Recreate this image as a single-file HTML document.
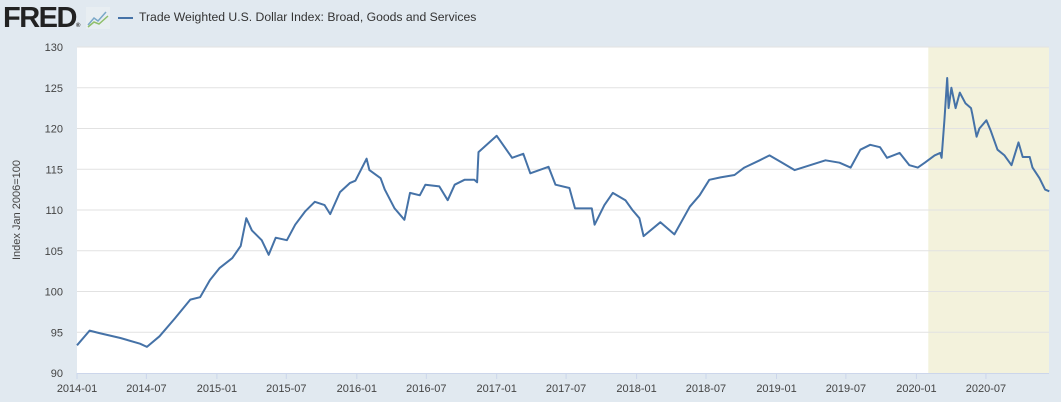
<!DOCTYPE html>
<html><head><meta charset="utf-8"><style>
body{margin:0;width:1061px;height:402px;background:#e1e9f0;font-family:"Liberation Sans",sans-serif;overflow:hidden;position:relative}
.logo{position:absolute;left:3px;top:2px;font-weight:bold;font-size:29px;letter-spacing:-1.5px;color:#222}
.legend{position:absolute;left:118px;top:10px;font-size:12.2px;color:#333}
</style></head><body>
<div class="logo">FRED<span style="font-size:6px">®</span></div>
<svg style="position:absolute;left:86px;top:7px" width="24" height="22">
<rect x="0" y="0" width="24" height="22" fill="#e8eef2"/>
<polyline points="2,18 8,11 12,14 20,5" fill="none" stroke="#7aa8c8" stroke-width="1.5"/>
<polyline points="2,20 8,15 13,17 22,9" fill="none" stroke="#8fbf6a" stroke-width="1.5"/>
</svg>
<div class="legend"><span style="display:inline-block;width:15px;height:2px;background:#4572a7;vertical-align:middle;margin-right:6px"></span>Trade Weighted U.S. Dollar Index: Broad, Goods and Services</div>
<svg id="chart" width="1061" height="402" style="position:absolute;left:0;top:0"></svg>
<script>
const years=[2014.00,2014.09,2014.16,2014.31,2014.45,2014.50,2014.59,2014.70,2014.81,2014.88,2014.95,2015.02,2015.11,2015.17,2015.21,2015.25,2015.32,2015.37,2015.42,2015.50,2015.56,2015.63,2015.70,2015.77,2015.81,2015.88,2015.95,2015.99,2016.07,2016.09,2016.17,2016.20,2016.27,2016.34,2016.38,2016.45,2016.49,2016.59,2016.65,2016.70,2016.77,2016.84,2016.86,2016.87,2017.00,2017.11,2017.19,2017.24,2017.37,2017.42,2017.52,2017.56,2017.68,2017.70,2017.77,2017.83,2017.92,2017.97,2018.02,2018.05,2018.17,2018.27,2018.38,2018.45,2018.52,2018.60,2018.70,2018.77,2018.88,2018.95,2019.03,2019.13,2019.24,2019.35,2019.45,2019.53,2019.60,2019.67,2019.74,2019.79,2019.88,2019.95,2020.01,2020.06,2020.13,2020.17,2020.18,2020.20,2020.22,2020.23,2020.25,2020.28,2020.31,2020.35,2020.39,2020.40,2020.43,2020.45,2020.50,2020.53,2020.58,2020.63,2020.68,2020.73,2020.76,2020.81,2020.83,2020.88,2020.92,2020.95];
const values=[93.4,95.2,94.9,94.3,93.6,93.2,94.5,96.7,99.0,99.3,101.4,102.9,104.1,105.6,109.0,107.5,106.3,104.5,106.6,106.3,108.2,109.8,111.0,110.6,109.5,112.2,113.3,113.6,116.3,114.9,113.9,112.5,110.2,108.8,112.1,111.8,113.1,112.9,111.2,113.1,113.7,113.7,113.4,117.1,119.1,116.4,116.9,114.5,115.3,113.1,112.7,110.2,110.2,108.2,110.6,112.1,111.2,110.0,109.0,106.8,108.5,107.0,110.4,111.8,113.7,114.0,114.3,115.2,116.1,116.7,115.9,114.9,115.5,116.1,115.8,115.2,117.4,118.0,117.7,116.4,117.0,115.5,115.2,115.8,116.7,117.0,116.4,121.0,126.2,122.5,125.0,122.5,124.4,123.1,122.5,121.7,119.0,120.0,121.0,119.8,117.4,116.7,115.5,118.3,116.5,116.5,115.2,113.9,112.5,112.3];
const yTicks=[90,95,100,105,110,115,120,125,130];
const xTickLabels=["2014-01","2014-07","2015-01","2015-07","2016-01","2016-07","2017-01","2017-07","2018-01","2018-07","2019-01","2019-07","2020-01","2020-07"];
const xTickYears=[2014,2014.496,2015,2015.496,2016,2016.497,2017,2017.496,2018,2018.496,2019,2019.496,2020,2020.497];
const recession=[2020.085,2020.96];
const X0=77,X1=1049,Y0=373,Y1=47;
const sx=y=>X0+(y-2014)*139.9;
const sy=v=>Y0-(v-90)*(Y0-Y1)/40;
const svg=document.getElementById('chart');const NS='http://www.w3.org/2000/svg';
function mk(t,a){const e=document.createElementNS(NS,t);for(const k in a)e.setAttribute(k,a[k]);svg.appendChild(e);return e;}
let e=mk('rect',{x:X0,y:Y1,width:X1-X0,height:Y0-Y1,fill:'#fff'});


e=mk('rect',{x:sx(recession[0]),y:Y1,width:Math.min(X1,sx(recession[1]))-sx(recession[0]),height:Y0-Y1,fill:'#f3f2dc'});


yTicks.forEach(v=>{
 if(v>90){const g=mk('line',{x1:X0,x2:X1,y1:sy(v),y2:sy(v),stroke:'#e2e2e2','stroke-width':1});
 
 }
 const t=mk('text',{x:63,y:sy(v)+4,'text-anchor':'end','font-size':11,fill:'#444'});t.textContent=v;
 
 
});
e=mk('line',{x1:X0,x2:X1,y1:Y0+0.5,y2:Y0+0.5,stroke:'#ccd6eb'});


xTickYears.forEach((y,i)=>{
 const l=mk('line',{x1:sx(y),x2:sx(y),y1:Y0,y2:Y0+6,stroke:'#ccd6eb'});
 
 
 const t=mk('text',{x:sx(y),y:392,'text-anchor':'middle','font-size':11,fill:'#444'});t.textContent=xTickLabels[i];
 
 
});
e=mk('text',{x:20,y:210,'text-anchor':'middle','font-size':11,fill:'#444',transform:'rotate(-90 20 210)'});e.textContent='Index Jan 2006=100';


e=mk('polyline',{points:years.map((y,i)=>sx(y).toFixed(1)+','+sy(values[i]).toFixed(1)).join(' '),fill:'none',stroke:'#4572a7','stroke-width':2,'stroke-linejoin':'round'});


</script>
</body></html>
